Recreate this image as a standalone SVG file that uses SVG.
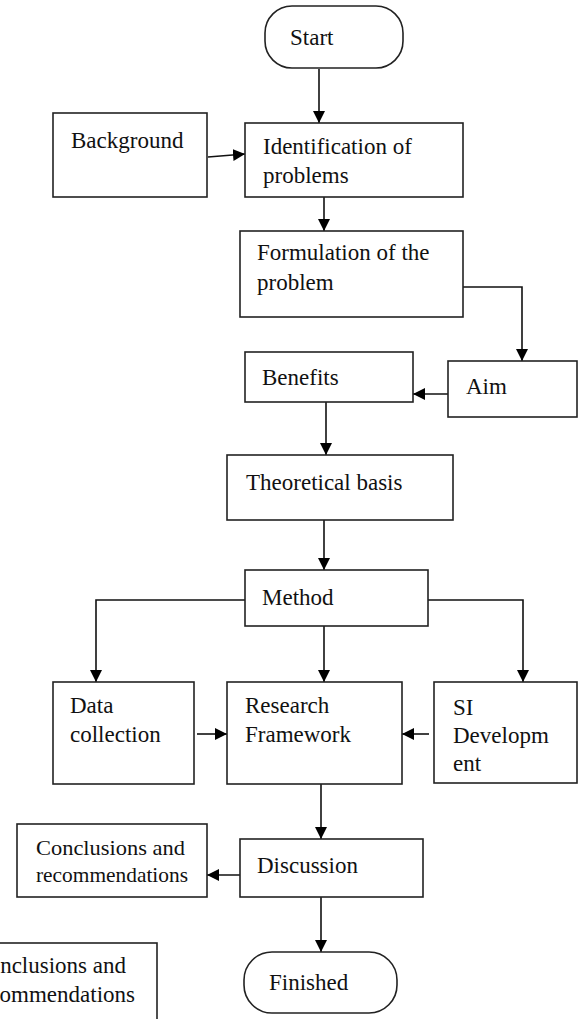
<svg xmlns="http://www.w3.org/2000/svg" width="578" height="1019" viewBox="0 0 578 1019">
<defs>
<marker id="arr" markerUnits="userSpaceOnUse" markerWidth="12" markerHeight="12" viewBox="0 0 12 12" refX="12" refY="6" orient="auto">
<path d="M0,0 L12,6 L0,12 z" fill="#000"/>
</marker>
<style>
.box{fill:#fff;stroke:#222;stroke-width:1.6}
.t{font-family:"Liberation Serif","Times New Roman",serif;font-size:23px;fill:#111}
.s{font-family:"Liberation Serif","Times New Roman",serif;font-size:21px;fill:#111}
.c{fill:none;stroke:#111;stroke-width:1.6;marker-end:url(#arr)}
</style>
</defs>
<rect width="578" height="1019" fill="#fff"/>
<g id="connectors">
<path class="c" d="M319,69 V123"/>
<path class="c" d="M208,157 L245,154"/>
<path class="c" d="M324,197 V231"/>
<path class="c" d="M463,287 H522 V361"/>
<path class="c" d="M448,394 H413"/>
<path class="c" d="M326,402 V455"/>
<path class="c" d="M324,520 V570"/>
<path class="c" d="M245,600 H96 V682"/>
<path class="c" d="M428,600 H523 V682"/>
<path class="c" d="M324,626 V682"/>
<path class="c" d="M197,734 H227"/>
<path class="c" d="M429,734 H402"/>
<path class="c" d="M321,784 V839"/>
<path class="c" d="M240,875 H207"/>
<path class="c" d="M321,897 V952"/>
</g>
<g id="start"><rect class="box" x="265" y="6" width="138" height="62" rx="27"/><text class="t" x="290" y="45">Start</text></g>
<g id="background"><rect class="box" x="53" y="113" width="154" height="84"/><text class="t" x="71" y="148">Background</text></g>
<g id="identification"><rect class="box" x="245" y="123" width="218" height="74"/><text class="t" x="263" y="154">Identification of</text><text class="t" x="263" y="183">problems</text></g>
<g id="formulation"><rect class="box" x="240" y="231" width="223" height="86"/><text class="t" x="257" y="260">Formulation of the</text><text class="t" x="257" y="290">problem</text></g>
<g id="benefits"><rect class="box" x="245" y="352" width="168" height="50"/><text class="t" x="262" y="385">Benefits</text></g>
<g id="aim"><rect class="box" x="448" y="361" width="129" height="56"/><text class="t" x="466" y="394">Aim</text></g>
<g id="theoretical"><rect class="box" x="227" y="455" width="226" height="65"/><text class="t" x="246" y="490">Theoretical basis</text></g>
<g id="method"><rect class="box" x="245" y="570" width="183" height="56"/><text class="t" x="262" y="605">Method</text></g>
<g id="data"><rect class="box" x="53" y="682" width="141" height="102"/><text class="t" x="70" y="713">Data</text><text class="t" x="70" y="742">collection</text></g>
<g id="research"><rect class="box" x="227" y="682" width="175" height="102"/><text class="t" x="245" y="713">Research</text><text class="t" x="245" y="742">Framework</text></g>
<g id="si"><rect class="box" x="434" y="682" width="143" height="101"/><text class="t" x="453" y="715">SI</text><text class="t" x="453" y="743">Developm</text><text class="t" x="453" y="771">ent</text></g>
<g id="conclusions"><rect class="box" x="17" y="824" width="190" height="73"/><text class="s" x="36" y="855" textLength="149" lengthAdjust="spacingAndGlyphs">Conclusions and</text><text class="s" x="36" y="882" textLength="152" lengthAdjust="spacingAndGlyphs">recommendations</text></g>
<g id="discussion"><rect class="box" x="240" y="839" width="183" height="58"/><text class="t" x="257" y="873">Discussion</text></g>
<g id="finished"><rect class="box" x="244" y="952" width="153" height="61" rx="28"/><text class="t" x="269" y="990">Finished</text></g>
<g id="clipped-note"><rect class="box" x="-2" y="943" width="159" height="80"/><text class="t" x="126" y="973" text-anchor="end">nclusions and</text><text class="t" x="135" y="1002" text-anchor="end">ommendations</text></g>
</svg>
